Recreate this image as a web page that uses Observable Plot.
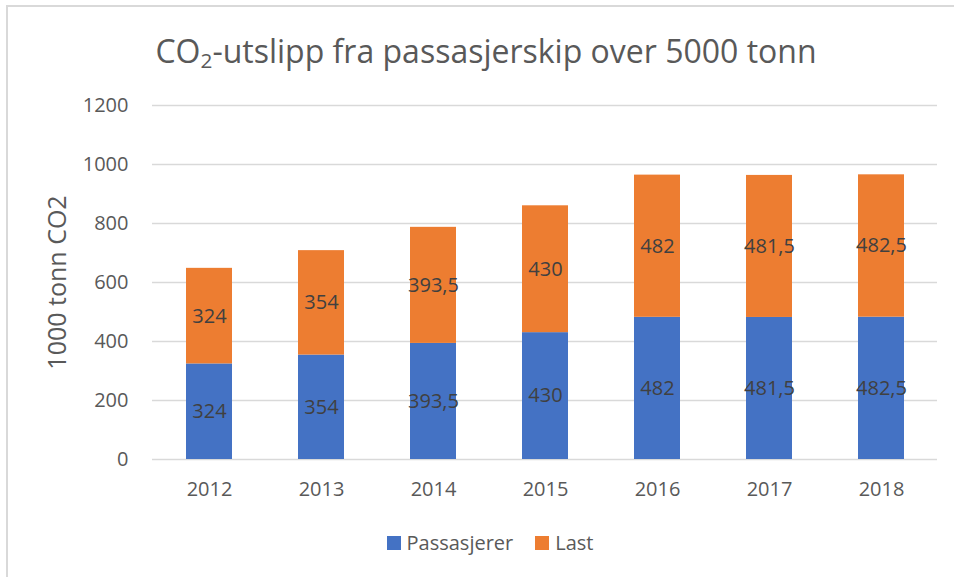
<!DOCTYPE html>
<html>
<head>
<meta charset="utf-8">
<script src="https://cdn.jsdelivr.net/npm/d3@7"></script>
<script src="https://cdn.jsdelivr.net/npm/@observablehq/plot@0.6"></script>
<style>
  html, body { margin: 0; padding: 0; background: #fff; }
  body { font-family: "Open Sans", sans-serif; }
  #wrap { position: relative; width: 954px; height: 577px; overflow: hidden; background: #fff; }
  #frame { position: absolute; left: 6px; top: 5px; width: 1000px; height: 1000px;
           border: 2px solid #d9d9d9; box-sizing: border-box; pointer-events: none; }
  #title { position: relative; height: 85px; box-sizing: border-box; padding-top: 31px;
           width: 972px; text-align: center; font-size: 32px; line-height: 40px; color: #595959; white-space: nowrap; }
  #title sub { font-size: 0.65em; line-height: 0; vertical-align: -0.25em; }
  #chart { position: relative; display: block; }
  #legend { position: relative; width: 980px; padding-top: 22px; display: flex; justify-content: center;
            align-items: center; font-size: 20px; line-height: 24px; color: #595959; }
  .item { display: flex; align-items: center; }
  .sw { width: 14px; height: 14px; margin-right: 6px; }
  .gap { width: 22px; }
</style>
</head>
<body>
<div id="wrap">
  <div id="frame"></div>
  <div id="title">CO<sub>2</sub>-utslipp fra passasjerskip over 5000 tonn</div>
  <div id="chart"></div>
  <div id="legend"></div>
</div>
<script>
const years = ["2012", "2013", "2014", "2015", "2016", "2017", "2018"];
const passasjerer = [324, 354, 393.5, 430, 482, 481.5, 482.5];
const last = [324, 354, 393.5, 430, 482, 481.5, 482.5];
const seriesNames = ["Passasjerer", "Last"];
const seriesColors = ["#4472c4", "#ed7d31"];
const yTicks = [0, 200, 400, 600, 800, 1000, 1200];
const yLabel = "1000 tonn CO2";

const data = [];
years.forEach((yr, i) => {
  data.push({year: yr, series: seriesNames[0], value: passasjerer[i]});
  data.push({year: yr, series: seriesNames[1], value: last[i]});
});
const fmt = v => String(v).replace(".", ",");

const plot = Plot.plot({
  width: 954,
  height: 424,
  marginTop: 20,
  marginBottom: 50,
  marginLeft: 152,
  marginRight: 17,
  style: {fontFamily: "'Open Sans', sans-serif", fontSize: "20px", color: "#595959", background: "transparent"},
  x: {domain: years, paddingInner: 0.59, paddingOuter: 0.295, align: 0.5, label: null},
  y: {domain: [0, 1200], label: null},
  color: {domain: seriesNames, range: seriesColors},
  marks: [
    Plot.ruleY(yTicks, {stroke: "#d9d9d9", strokeWidth: 1.5}),
    Plot.barY(data, Plot.stackY({x: "year", y: "value", z: "series", fill: "series", order: seriesNames})),
    Plot.text(data, Plot.stackY({x: "year", y: "value", z: "series", order: seriesNames,
      text: d => fmt(d.value), fill: "#404040", fontSize: 20})),
    Plot.axisY({ticks: yTicks, tickFormat: d => String(d), tickSize: 0, tickPadding: 24, fontSize: 20, fill: "#595959", label: null}),
    Plot.axisX({tickSize: 0, tickPadding: 22, fontSize: 20, fill: "#595959", label: null}),
    Plot.text([yLabel], {text: d => d, frameAnchor: "left", textAnchor: "middle", dx: -95, rotate: -90, fontSize: 25, fill: "#595959"})
  ]
});
document.getElementById("chart").appendChild(plot);

const legend = document.getElementById("legend");
seriesNames.forEach((name, i) => {
  if (i > 0) { const g = document.createElement("div"); g.className = "gap"; legend.appendChild(g); }
  const item = document.createElement("div");
  item.className = "item";
  const sw = document.createElement("div");
  sw.className = "sw";
  sw.style.background = seriesColors[i];
  const t = document.createElement("span");
  t.textContent = name;
  item.appendChild(sw);
  item.appendChild(t);
  legend.appendChild(item);
});
</script>
</body>
</html>
